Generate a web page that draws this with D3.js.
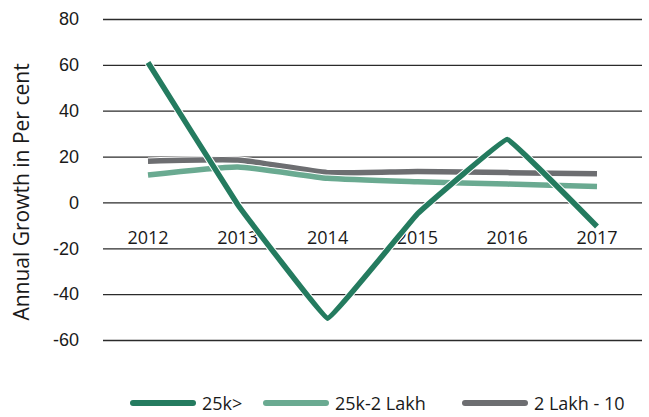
<!DOCTYPE html>
<html>
<head>
<meta charset="utf-8">
<script src="https://cdn.jsdelivr.net/npm/d3@7"></script>
<style>
  html, body { margin: 0; padding: 0; background: #fff; }
  svg { display: block; font-family: "Open Sans", "Noto Sans", sans-serif; }
</style>
</head>
<body>
<svg id="chart" width="649" height="417"></svg>
<script>
const years = ["2012", "2013", "2014", "2015", "2016", "2017"];
const s25k = [61, -1, -50.5, -5, 27.5, -10.5];
const s25k2Lakh = [12, 15.5, 10.5, 9, 8, 7];
const s2Lakh10 = [18, 18.5, 13, 13.5, 13, 12.5];
const yTicks = [-60, -40, -20, 0, 20, 40, 60, 80];
const seriesNames = ["25k>", "25k-2 Lakh", "2 Lakh - 10"];
const seriesColors = ["#247B5F", "#6AAA91", "#6D6E71"];

const svg = d3.select("#chart");
const gridLeft = 103, gridRight = 642;

const x = d3.scalePoint().domain(years).range([148, 597]);
const y = d3.scaleLinear().domain([-60, 80]).range([340, 19]);

// gridlines + y labels
const yAxis = d3.axisLeft(y).tickValues(yTicks).tickSize(-(gridRight - gridLeft))
  .tickFormat(d => String(d).replace("\u2212", "-"));
const gy = svg.append("g").attr("transform", `translate(${gridLeft},0)`).call(yAxis);
gy.select(".domain").remove();
gy.selectAll(".tick line").attr("stroke", "#2b2b2b").attr("stroke-width", 1.3);
gy.selectAll(".tick text").attr("fill", "#1a1a1a").attr("font-size", 18).attr("x", -24);

// x labels
svg.append("g").selectAll("text").data(years).join("text")
  .attr("x", d => x(d)).attr("y", 244)
  .attr("text-anchor", "middle").attr("font-size", 18).attr("fill", "#1a1a1a")
  .text(d => d);

// y title
svg.append("text")
  .attr("transform", "translate(29,192) rotate(-90)")
  .attr("text-anchor", "middle").attr("font-size", 21).attr("fill", "#1a1a1a")
  .text("Annual Growth in Per cent");

const smooth = d3.line().x((d, i) => x(years[i])).y(d => y(d)).curve(d3.curveCardinal.tension(0.5));
const sharp = d3.line().x((d, i) => x(years[i])).y(d => y(d)).curve(d3.curveCardinal.tension(0.85));
const data = [s2Lakh10, s25k2Lakh, s25k];
const gens = [smooth, smooth, sharp];
const colors = [seriesColors[2], seriesColors[1], seriesColors[0]];
data.forEach((vals, k) => {
  svg.append("path").attr("d", gens[k](vals)).attr("fill", "none")
    .attr("stroke", "#fff").attr("stroke-width", 7.5).attr("stroke-linejoin", "round");
  svg.append("path").attr("d", gens[k](vals)).attr("fill", "none")
    .attr("stroke", colors[k]).attr("stroke-width", 5.5).attr("stroke-linejoin", "miter");
});

// legend
const legX = [130, 263, 462];
const lg = svg.append("g");
seriesNames.forEach((n, i) => {
  lg.append("line").attr("x1", legX[i] + 3).attr("x2", legX[i] + 63)
    .attr("y1", 403).attr("y2", 403)
    .attr("stroke", seriesColors[i]).attr("stroke-width", 6).attr("stroke-linecap", "round");
  lg.append("text").attr("x", legX[i] + 72).attr("y", 409.5)
    .attr("font-size", 18).attr("fill", "#1a1a1a").text(n);
});
</script>
</body>
</html>
